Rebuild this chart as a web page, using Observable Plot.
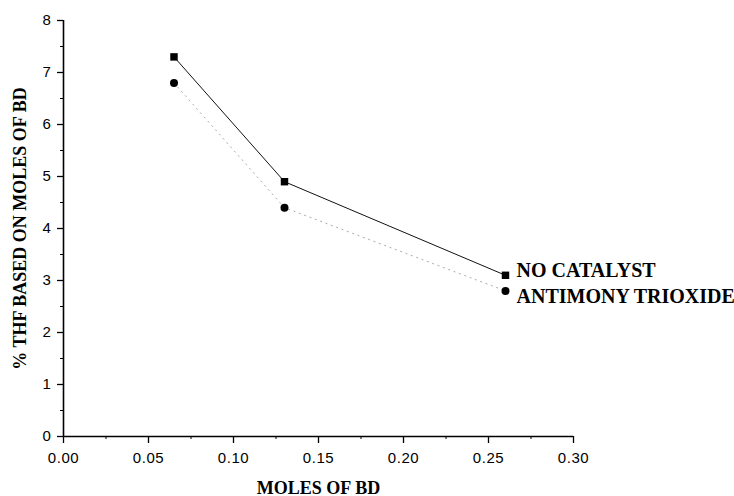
<!DOCTYPE html>
<html>
<head>
<meta charset="utf-8">
<script src="https://cdn.jsdelivr.net/npm/d3@7"></script>
<script src="https://cdn.jsdelivr.net/npm/@observablehq/plot@0.6"></script>
<style>
  html, body { margin: 0; padding: 0; background: #fff; }
  g[aria-label="x-axis tick label"] text, g[aria-label="y-axis tick label"] text {
    font-size: 15px !important; letter-spacing: 0.6px; font-family: 'Liberation Sans', Arial, sans-serif;
  }
</style>
</head>
<body>
<div id="chart"></div>
<script>
const molesBD = [0.065, 0.13, 0.26];
const noCatalyst = [7.3, 4.9, 3.1];
const antimonyTrioxide = [6.8, 4.4, 2.8];
const seriesNames = ["NO CATALYST", "ANTIMONY TRIOXIDE"];
const xTicks = [0, 0.05, 0.10, 0.15, 0.20, 0.25, 0.30];
const xMinorTicks = [0.025, 0.075, 0.125, 0.175, 0.225, 0.275];
const yTicks = [0, 1, 2, 3, 4, 5, 6, 7, 8];
const yMinorTicks = [0.5, 1.5, 2.5, 3.5, 4.5, 5.5, 6.5, 7.5];

const sq = molesBD.map((x, i) => ({x, y: noCatalyst[i]}));
const ci = molesBD.map((x, i) => ({x, y: antimonyTrioxide[i]}));
const lastSq = [{x: molesBD[2], y: noCatalyst[2], text: seriesNames[0]}];
const lastCi = [{x: molesBD[2], y: antimonyTrioxide[2], text: seriesNames[1]}];

const serif = "'Liberation Serif', 'Times New Roman', serif";
const sans = "'Liberation Sans', Arial, sans-serif";

const chart = Plot.plot({
  width: 734,
  height: 496,
  marginLeft: 63,
  marginRight: 161,
  marginTop: 20,
  marginBottom: 60,
  style: {fontFamily: sans, fontSize: "15px", color: "#000", background: "#fff"},
  x: {domain: [0, 0.30]},
  y: {domain: [0, 8]},
  marks: [
    Plot.ruleX([0], {stroke: "#000", strokeWidth: 1.6}),
    Plot.ruleY([0], {stroke: "#000", strokeWidth: 1.6}),
    Plot.axisX(xTicks, {tickSize: 7, tickPadding: 9, tickFormat: d3.format(".2f"), label: null, stroke: "#000", strokeWidth: 1.3}),
    Plot.axisX(xMinorTicks, {tickSize: 3, tickFormat: () => "", label: null, stroke: "#000"}),
    Plot.axisY(yTicks, {tickSize: 6, tickPadding: 6, tickFormat: d3.format("d"), label: null, stroke: "#000", strokeWidth: 1.3}),
    Plot.axisY(yMinorTicks, {tickSize: 3, tickFormat: () => "", label: null, stroke: "#000"}),
    Plot.line(ci, {x: "x", y: "y", stroke: "#aaa", strokeWidth: 1, strokeDasharray: "1.2,4.5"}),
    Plot.line(sq, {x: "x", y: "y", stroke: "#111", strokeWidth: 1}),
    Plot.dot(sq, {x: "x", y: "y", symbol: "square", r: 4.2, fill: "#000", stroke: "none"}),
    Plot.dot(ci, {x: "x", y: "y", symbol: "circle", r: 4, fill: "#000", stroke: "none"}),
    Plot.text(lastSq, {x: "x", y: "y", text: "text", dx: 11, dy: -5, textAnchor: "start", fontFamily: serif, fontWeight: "bold", fontSize: 20, fill: "#000"}),
    Plot.text(lastCi, {x: "x", y: "y", text: "text", dx: 11, dy: 6, textAnchor: "start", fontFamily: serif, fontWeight: "bold", fontSize: 20, fill: "#000"}),
    Plot.text(["MOLES OF BD"], {frameAnchor: "bottom", dy: 57, x: 0.15, textAnchor: "middle", fontFamily: serif, fontWeight: "bold", fontSize: 18, fill: "#000"}),
    Plot.text(["% THF BASED ON MOLES OF BD"], {frameAnchor: "left", dx: -43, y: 4.0, rotate: -90, textAnchor: "middle", fontFamily: serif, fontWeight: "bold", fontSize: 18, fill: "#000"})
  ]
});
document.getElementById("chart").appendChild(chart);
</script>
</body>
</html>
